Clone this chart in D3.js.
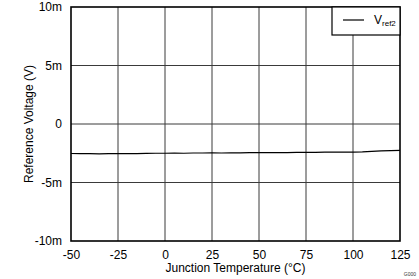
<!DOCTYPE html>
<html>
<head>
<meta charset="utf-8">
<script src="https://cdn.jsdelivr.net/npm/d3@7"></script>
<style>
  body { margin: 0; background: #fff; }
  svg text { font-family: "Liberation Sans", Arial, sans-serif; }
</style>
</head>
<body>
<svg id="plot"></svg>
<script>
const width = 419;
const height = 279;
const margin = {top: 7, right: 19, bottom: 38, left: 71};

// junction temperature (°C)
const temps = [-50, -45, -40, -35, -30, -25, -20, -15, -10, -5, 0, 5, 10, 15, 20, 25,
  30, 35, 40, 45, 50, 55, 60, 65, 70, 75, 80, 85, 90, 95, 100, 105, 110, 115, 120, 125];
// Vref2 reference voltage (mV)
const vref2 = [-2.52, -2.54, -2.53, -2.55, -2.54, -2.53, -2.52, -2.53, -2.51, -2.5, -2.5, -2.49,
  -2.5, -2.48, -2.48, -2.47, -2.48, -2.47, -2.46, -2.45, -2.45, -2.45, -2.44, -2.45, -2.43,
  -2.42, -2.43, -2.41, -2.41, -2.4, -2.4, -2.38, -2.34, -2.3, -2.28, -2.26];

const xTicks = [-50, -25, 0, 25, 50, 75, 100, 125];
const xTickLabels = ['-50', '-25', '0', '25', '50', '75', '100', '125'];
const yTicks = [-10, -5, 0, 5, 10];
const yTickLabels = ['-10m', '-5m', '0', '5m', '10m'];

const svg = d3.select('svg#plot')
  .attr('width', width)
  .attr('height', height);

const sx = d3.scaleLinear()
  .domain([-50, 125])
  .range([margin.left, width - margin.right]);

const sy = d3.scaleLinear()
  .domain([-10, 10])
  .range([height - margin.bottom, margin.top]);

// grid
svg.append('g')
  .selectAll('line')
  .data(xTicks.slice(1, -1))
  .join('line')
  .attr('x1', d => sx(d)).attr('x2', d => sx(d))
  .attr('y1', sy(10)).attr('y2', sy(-10))
  .attr('stroke', '#3a3a3a').attr('stroke-width', 1);

svg.append('g')
  .selectAll('line')
  .data(yTicks.slice(1, -1))
  .join('line')
  .attr('x1', sx(-50)).attr('x2', sx(125))
  .attr('y1', d => sy(d)).attr('y2', d => sy(d))
  .attr('stroke', '#3a3a3a').attr('stroke-width', 1);

// frame
svg.append('rect')
  .attr('x', sx(-50)).attr('y', sy(10))
  .attr('width', sx(125) - sx(-50))
  .attr('height', sy(-10) - sy(10))
  .attr('fill', 'none')
  .attr('stroke', '#000')
  .attr('stroke-width', 1.6);

// axes labels (ticks drawn by d3 axis, domain hidden)
const ax = d3.axisBottom(sx).tickValues(xTicks).tickSize(0).tickPadding(9)
  .tickFormat((d, i) => xTickLabels[i]);
const gx = svg.append('g')
  .attr('transform', `translate(0,${sy(-10)})`)
  .call(ax);

const ay = d3.axisLeft(sy).tickValues(yTicks).tickSize(0).tickPadding(9)
  .tickFormat((d, i) => yTickLabels[i]);
const gy = svg.append('g')
  .attr('transform', `translate(${sx(-50)},0)`)
  .call(ay);

[gx, gy].forEach(g => {
  g.select('.domain').remove();
  g.selectAll('text')
    .attr('font-size', 12)
    .attr('fill', '#000')
    .style('font-family', '"Liberation Sans", Arial, sans-serif');
});

// axis titles
svg.append('text')
  .attr('x', (sx(-50) + sx(125)) / 2)
  .attr('y', 272)
  .attr('text-anchor', 'middle')
  .attr('font-size', 12)
  .text('Junction Temperature (°C)');

svg.append('text')
  .attr('transform', `translate(33,${(sy(10) + sy(-10)) / 2}) rotate(-90)`)
  .attr('text-anchor', 'middle')
  .attr('font-size', 12)
  .text('Reference Voltage (V)');

// data line
const line = d3.line()
  .x((d, i) => sx(temps[i]))
  .y(d => sy(d));

svg.append('path')
  .datum(vref2)
  .attr('d', line)
  .attr('fill', 'none')
  .attr('stroke', '#000')
  .attr('stroke-width', 1.2);

// legend
const lg = svg.append('g');
lg.append('rect')
  .attr('x', 332).attr('y', sy(10))
  .attr('width', sx(125) - 332).attr('height', 28)
  .attr('fill', '#fff')
  .attr('stroke', '#000').attr('stroke-width', 1.2);
lg.append('line')
  .attr('x1', 343).attr('x2', 364)
  .attr('y1', 20).attr('y2', 20)
  .attr('stroke', '#000').attr('stroke-width', 1.2);
const lt = lg.append('text')
  .attr('x', 374).attr('y', 24)
  .attr('font-size', 12);
lt.append('tspan').text('V');
lt.append('tspan').attr('font-size', 8).attr('dy', 2).text('ref2');

// figure id
svg.append('text')
  .attr('x', 416).attr('y', 276)
  .attr('text-anchor', 'end')
  .attr('font-size', 5)
  .attr('fill', '#333')
  .text('G000');
</script>
</body>
</html>
